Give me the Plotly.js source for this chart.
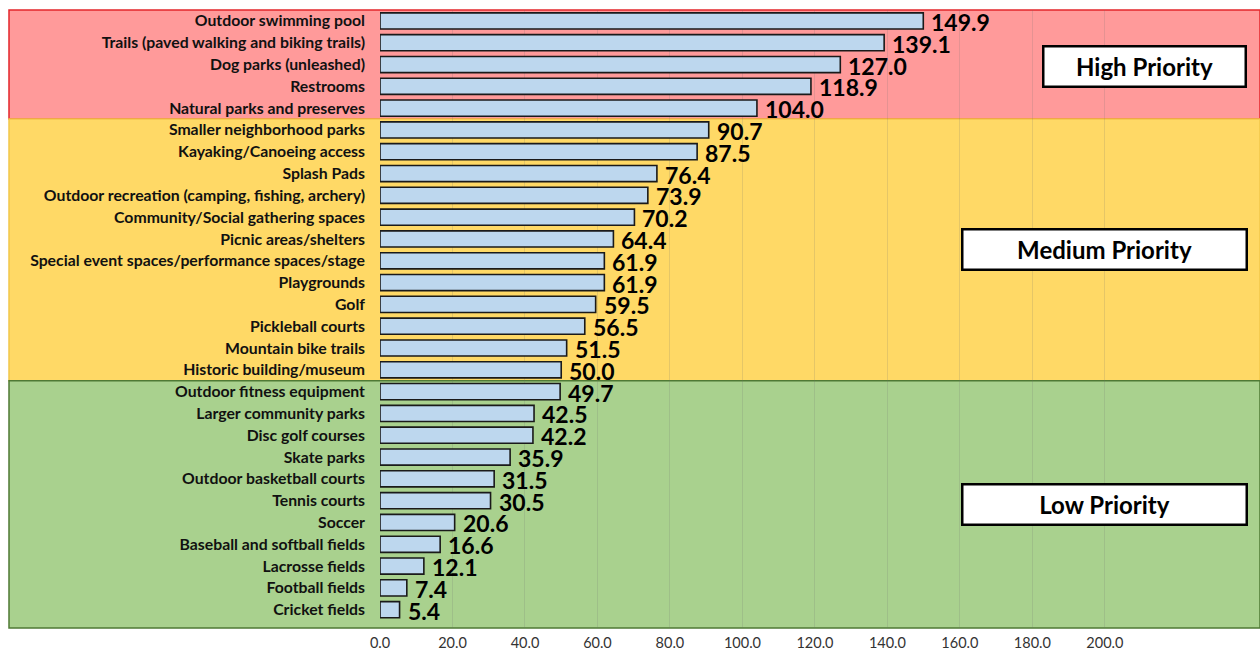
<!DOCTYPE html>
<html><head><meta charset="utf-8">
<script src="https://cdn.plot.ly/plotly-3.0.1.min.js"></script>
<style>html,body{margin:0;padding:0;background:#fff;}#chart{width:1260px;height:650px;}</style>
</head><body><div id="chart"></div>
<script>
const categories = [
  "Outdoor swimming pool","Trails (paved walking and biking trails)","Dog parks (unleashed)","Restrooms","Natural parks and preserves",
  "Smaller neighborhood parks","Kayaking/Canoeing access","Splash Pads","Outdoor recreation (camping, fishing, archery)","Community/Social gathering spaces",
  "Picnic areas/shelters","Special event spaces/performance spaces/stage","Playgrounds","Golf","Pickleball courts","Mountain bike trails","Historic building/museum",
  "Outdoor fitness equipment","Larger community parks","Disc golf courses","Skate parks","Outdoor basketball courts","Tennis courts","Soccer",
  "Baseball and softball fields","Lacrosse fields","Football fields","Cricket fields"
];
const scores = [149.9,139.1,127.0,118.9,104.0,90.7,87.5,76.4,73.9,70.2,64.4,61.9,61.9,59.5,56.5,51.5,50.0,49.7,42.5,42.2,35.9,31.5,30.5,20.6,16.6,12.1,7.4,5.4];
const tickValues = [0,20,40,60,80,100,120,140,160,180,200];
const priorityLabels = ["High Priority","Medium Priority","Low Priority"];
// priority bands: first and last category index of each group
const bandFirst = [0,5,17];
const bandLast = [4,16,27];

const L = 380, R = 0, T = 10, B = 22, W = 1260, H = 650;
const plotW = W - L - R, plotH = H - T - B;
const xMax = 242.8;
const yTop = -0.5, yBot = 27.84;
const paperLeft = (9 - L) / plotW;

const bandFill = ["#FF9A9A","#FFD966","#A9D18E"];
const bandLine = ["#E3262B","#F2C84B","#4F7A35"];

function catToPaper(v){ return (yBot - v) / (yBot - yTop); }

const shapes = [];
for (let i = 0; i < 3; i++) {
  const y0 = i === 0 ? 1.0 : catToPaper(bandFirst[i] - 0.5);
  const y1 = i === 2 ? 0.0 : catToPaper(bandLast[i] + 0.5);
  shapes.push({type:'rect', xref:'paper', yref:'paper', x0:paperLeft, x1:1, y0:y0, y1:y1,
    fillcolor:bandFill[i], line:{color:bandLine[i], width:1.5}, layer:'below'});
}

const boxPos = [[0.869,0.909,200],[0.823,0.612,282],[0.823,0.2006,282]];
const annotations = priorityLabels.map((t,i)=>({
  xref:'paper', yref:'paper', x:boxPos[i][0], y:boxPos[i][1], xanchor:'center', yanchor:'middle',
  text:t, showarrow:false, bgcolor:'#ffffff', bordercolor:'#000000', borderwidth:2.5,
  width:boxPos[i][2], height:38, borderpad:0,
  font:{family:'Lato, "Open Sans", sans-serif', size:24, weight:'bold', color:'#000'}
}));
// value labels, placed at each bar's end through the axes
scores.forEach((v,i)=>{
  annotations.push({xref:'x', yref:'y', x:v, y:categories[i], xanchor:'left', yanchor:'middle',
    xshift:7, yshift:-1, text:v.toFixed(1), showarrow:false, borderpad:0,
    font:{family:'Lato, "Open Sans", sans-serif', size:23, weight:'bold', color:'#000'}});
});

const trace = {
  type:'bar', orientation:'h', x:scores, y:categories,
  marker:{color:'#BDD7EE', line:{color:'#1a1a1a', width:1.6}},
  hoverinfo:'x+y'
};

const layout = {
  width:W, height:H, margin:{l:L, r:R, t:T, b:B, pad:0},
  paper_bgcolor:'#ffffff', plot_bgcolor:'rgba(0,0,0,0)',
  showlegend:false, bargap:0.26,
  xaxis:{range:[0,xMax], tickvals:tickValues, ticktext:tickValues.map(v=>v.toFixed(1)),
    showgrid:true, gridcolor:'rgba(110,110,110,0.18)', gridwidth:1, zeroline:false,
    showline:false, ticks:'', ticklabelstandoff:4,
    tickfont:{family:'Lato, "Open Sans", sans-serif', size:14.5, color:'#333'}},
  yaxis:{type:'category', categoryorder:'array', categoryarray:categories,
    range:[yBot, yTop], showgrid:false, zeroline:false, showline:false, ticks:'',
    ticklabelstandoff:14,
    tickfont:{family:'Lato, "Open Sans", sans-serif', size:15.8, weight:'bold', color:'#111'}},
  shapes:shapes, annotations:annotations
};

Plotly.newPlot('chart',[trace],layout,{displayModeBar:false, staticPlot:true});
</script>
</body></html>
